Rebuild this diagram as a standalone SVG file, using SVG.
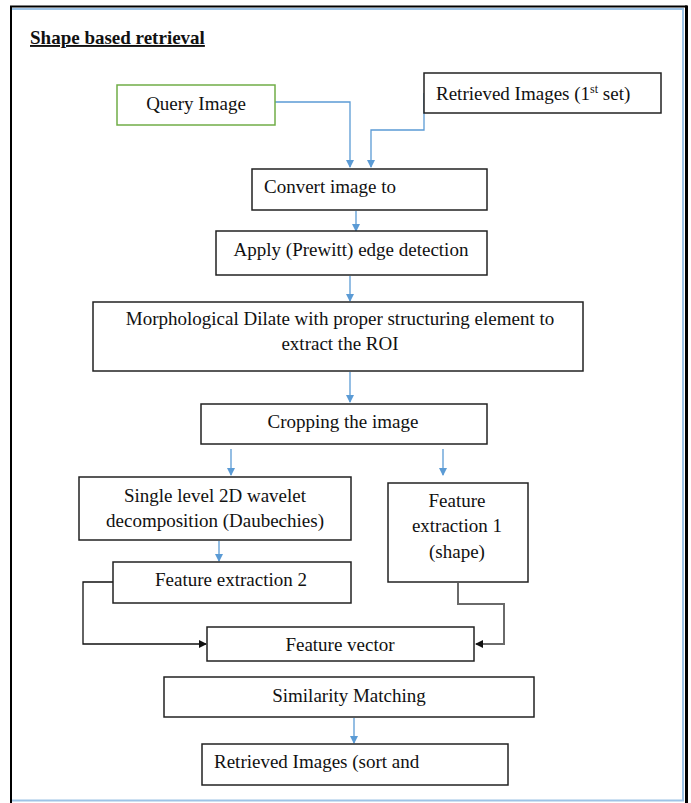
<svg xmlns="http://www.w3.org/2000/svg" width="691" height="803" viewBox="0 0 691 803">
<style>
.box{fill:#fff;stroke:#222;stroke-width:1.5}
.t{font-family:"Liberation Serif","Times New Roman",serif;font-size:19px;fill:#111}
.c{text-anchor:middle}
.blue{fill:none;stroke:#5B9BD5;stroke-width:1.3}
.blk{fill:none;stroke:#111;stroke-width:1.3}
.gry{fill:none;stroke:#6a6a6a;stroke-width:2}
.fb{fill:none;stroke:#9DC3E6;stroke-width:2}
.fk{fill:none;stroke:#000}
</style>
<defs>
<marker id="ab" markerWidth="8" markerHeight="8" refX="7" refY="4" orient="auto" markerUnits="userSpaceOnUse"><path d="M0,0 L8,4 L0,8 z" fill="#5B9BD5"/></marker>
<marker id="ak" markerWidth="8" markerHeight="8" refX="7" refY="4" orient="auto" markerUnits="userSpaceOnUse"><path d="M0,0 L8,4 L0,8 z" fill="#111"/></marker>
</defs>
<rect x="0" y="0" width="691" height="803" fill="#fff"/>
<g id="frame">
<path class="fb" d="M12,9 H683 V800.5 H12"/>
<path class="fk" stroke-width="2" d="M11,803 V6.5 H687"/>
<path class="fk" stroke-width="3" d="M686.5,5.5 V803"/>
</g>
<g id="title"><text class="t" x="30" y="44" font-weight="bold" font-size="18.5" text-decoration="underline">Shape based retrieval</text></g>

<g id="connectors">
<path class="blue" d="M275,102 H350 V167" marker-end="url(#ab)"/>
<path class="blue" d="M424,93 V130 H371 V167" marker-end="url(#ab)"/>
<path class="blue" d="M356,211 V231" marker-end="url(#ab)"/>
<path class="blue" d="M350,276 V301" marker-end="url(#ab)"/>
<path class="blue" d="M350,372 V402" marker-end="url(#ab)"/>
<path class="blue" d="M231,449 V475" marker-end="url(#ab)"/>
<path class="blue" d="M443,449 V475" marker-end="url(#ab)"/>
<path class="blue" d="M219,541 V561" marker-end="url(#ab)"/>
<path class="blk" d="M113,582 H83 V644 H206" marker-end="url(#ak)"/>
<path class="gry" d="M458,583 V604 H504 V644 H476" marker-end="url(#ak)"/>
<path class="blue" d="M354,718 V743" marker-end="url(#ab)"/>
</g>

<g id="query"><rect x="117" y="85" width="158" height="40" fill="#fff" stroke="#70AD47" stroke-width="1.5"/><text class="t c" x="196" y="110">Query Image</text></g>
<g id="retrieved1"><rect class="box" x="424" y="73" width="237" height="40"/><text class="t" x="436" y="100">Retrieved Images (1<tspan font-size="12" dy="-7">st</tspan><tspan dy="7"> set)</tspan></text></g>
<g id="convert"><rect class="box" x="252" y="169" width="235" height="41"/><text class="t" x="264" y="193">Convert image to</text></g>
<g id="prewitt"><rect class="box" x="216" y="231" width="271" height="44"/><text class="t c" x="351" y="256">Apply (Prewitt) edge detection</text></g>
<g id="morph"><rect class="box" x="93" y="302" width="490" height="69"/><text class="t c" x="340" y="325">Morphological Dilate with proper structuring element to</text><text class="t c" x="340" y="350">extract the ROI</text></g>
<g id="crop"><rect class="box" x="201" y="404" width="286" height="40"/><text class="t c" x="343" y="428">Cropping the image</text></g>
<g id="wavelet"><rect class="box" x="79" y="477" width="272" height="63"/><text class="t c" x="215" y="502">Single level 2D wavelet</text><text class="t c" x="215" y="527">decomposition (Daubechies)</text></g>
<g id="fe1"><rect class="box" x="388" y="483" width="140" height="99"/><text class="t c" x="457" y="507">Feature</text><text class="t c" x="457" y="532">extraction 1</text><text class="t c" x="457" y="558">(shape)</text></g>
<g id="fe2"><rect class="box" x="113" y="562" width="238" height="41"/><text class="t c" x="231" y="586">Feature extraction 2</text></g>
<g id="fvec"><rect class="box" x="207" y="627" width="267" height="34"/><text class="t c" x="340" y="651">Feature vector</text></g>
<g id="sim"><rect class="box" x="164" y="677" width="370" height="40"/><text class="t c" x="349" y="702">Similarity Matching</text></g>
<g id="retrieved2"><rect class="box" x="202" y="744" width="306" height="41"/><text class="t" x="214" y="768">Retrieved Images (sort and</text></g>
</svg>
